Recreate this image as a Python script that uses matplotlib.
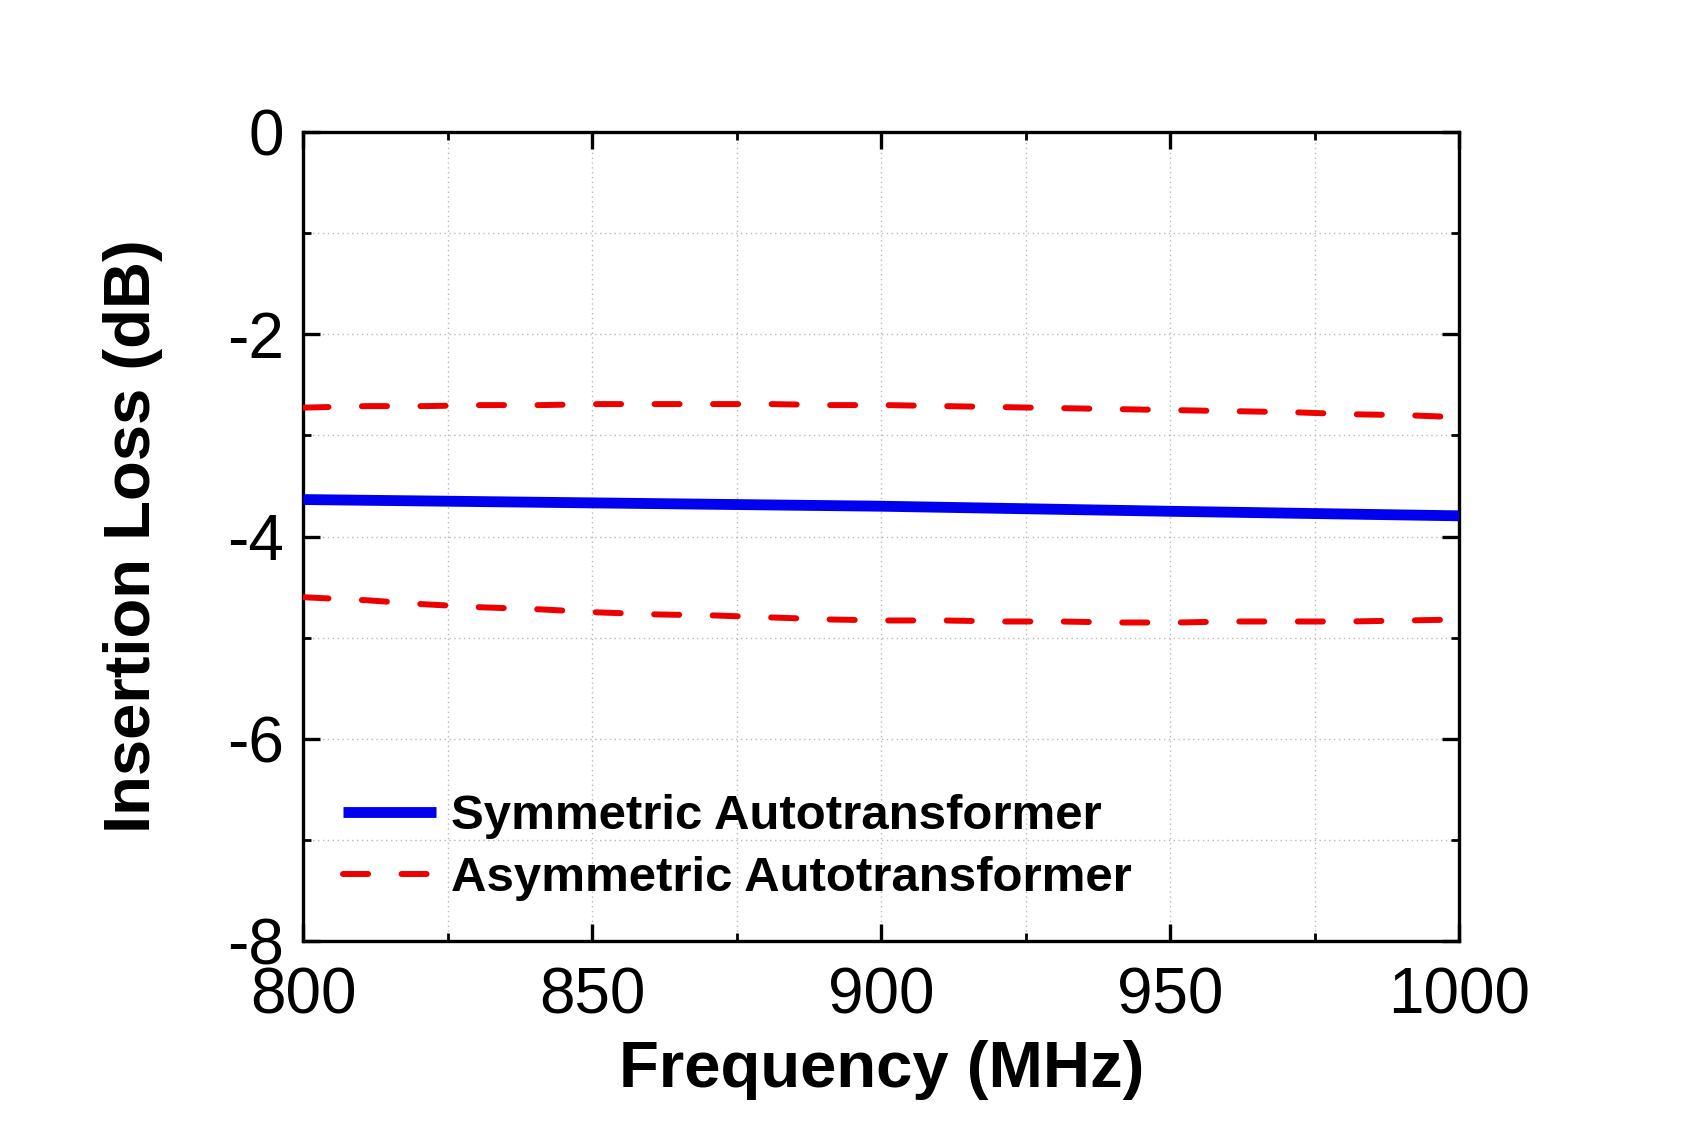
import numpy as np
import matplotlib
matplotlib.use("Agg")
import matplotlib.pyplot as plt
from matplotlib.ticker import MultipleLocator

plt.rcParams['font.family'] = ['Liberation Sans', 'DejaVu Sans']
plt.rcParams['axes.unicode_minus'] = False

# Data
freq_sym = [800, 850, 900, 950, 1000]
il_sym = [-3.634, -3.667, -3.700, -3.750, -3.795]

freq_asym = [800, 811, 821, 831, 841, 851, 861, 871, 881, 891, 901, 911, 921, 931, 941,
             951, 961, 971, 981, 991, 1000]
il_asym_upper = [-2.725, -2.71, -2.71, -2.70, -2.70, -2.69, -2.69, -2.69, -2.69, -2.70, -2.70,
                 -2.71, -2.72, -2.73, -2.74, -2.75, -2.76, -2.77, -2.79, -2.80, -2.82]
il_asym_lower = [-4.60, -4.63, -4.67, -4.70, -4.72, -4.75, -4.77, -4.78, -4.80, -4.82, -4.83,
                 -4.83, -4.84, -4.84, -4.85, -4.85, -4.84, -4.84, -4.84, -4.83, -4.82]

labels = ["Symmetric Autotransformer", "Asymmetric Autotransformer"]
xticks = [800, 850, 900, 950, 1000]
yticks = [0, -2, -4, -6, -8]

fig = plt.figure(figsize=(16.95, 11.29), dpi=100)
ax = fig.add_axes([0.179, 0.1665, 0.682, 0.7165])

ax.plot(freq_sym, il_sym, color='#0000ee', lw=7.8, solid_capstyle='butt', label=labels[0], zorder=3)
ax.plot(freq_asym, il_asym_upper, color='#ee0000', lw=4.3, dashes=(4.2, 5.6),
        dash_capstyle='round', label=labels[1], zorder=3)
ax.plot(freq_asym, il_asym_lower, color='#ee0000', lw=4.3, dashes=(4.2, 5.6),
        dash_capstyle='round', zorder=3)

ax.set_xlim(800, 1000)
ax.set_ylim(-8, 0)
ax.set_xticks(xticks)
ax.set_yticks(yticks)
ax.set_xticklabels([str(v) for v in xticks])
ax.set_yticklabels([str(v) for v in yticks])
ax.xaxis.set_minor_locator(MultipleLocator(25))
ax.yaxis.set_minor_locator(MultipleLocator(1))

ax.grid(True, which='both', color='#b8b8b8', linestyle=(0, (1, 2.5)), linewidth=1.0, zorder=0)
ax.set_axisbelow(True)

for s in ax.spines.values():
    s.set_linewidth(2.4)

ax.tick_params(which='major', direction='in', length=12, width=2.4, top=True, right=True,
               labelsize=46, pad=14)
ax.tick_params(axis='x', which='major', pad=18)
ax.tick_params(which='minor', direction='in', length=6, width=2.0, top=True, right=True)

ax.set_xlabel("Frequency (MHz)", fontsize=47, fontweight='bold', labelpad=10)
ax.set_ylabel("Insertion Loss (dB)", fontsize=47, fontweight='bold', labelpad=46)

leg = ax.legend(loc='lower left', bbox_to_anchor=(0.017, 0.025), frameon=False,
                prop={'size': 35.4, 'weight': 'bold'}, handlelength=1.9, handletextpad=0.3,
                labelspacing=0.35, borderaxespad=0)

fig.savefig("out.png", dpi=100)
